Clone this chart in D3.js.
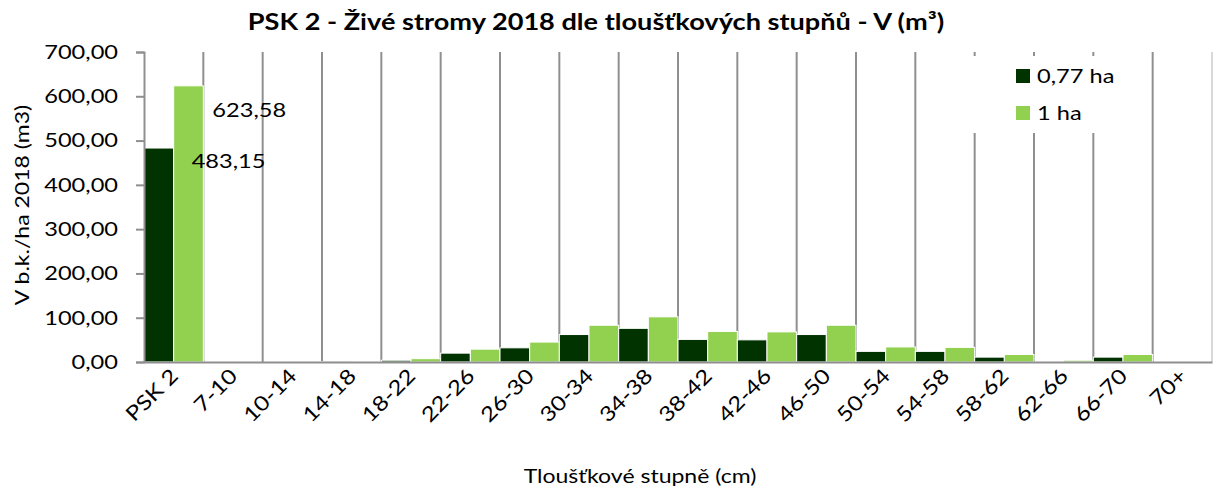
<!DOCTYPE html>
<html>
<head>
<meta charset="utf-8">
<script src="https://cdn.jsdelivr.net/npm/d3@7"></script>
<style>
  body { margin: 0; background: #fff; }
  svg text { font-family: Lato, "Open Sans", sans-serif; fill: #000; }
</style>
</head>
<body>
<svg id="chart"></svg>
<script>
// data
const categories = ['PSK 2', '7-10', '10-14', '14-18', '18-22', '22-26', '26-30', '30-34', '34-38',
                    '38-42', '42-46', '46-50', '50-54', '54-58', '58-62', '62-66', '66-70', '70+'];
const seriesNames = ['0,77 ha', '1 ha'];
const vol077 = [483.15, 0, 0, 0.3, 4, 20, 32, 62, 76, 51, 50, 62, 24, 24, 11, 0, 11, 0];
const vol1ha = [623.58, 0, 0.5, 1.5, 7.5, 29, 45, 83, 102, 69, 68, 83, 34, 33, 17, 4, 17, 0];
const yTicks = [0, 100, 200, 300, 400, 500, 600, 700];
const labelled = ['PSK 2'];

const colors = ['#003300', '#92d050'];
const svgWidth = 1219, svgHeight = 490;
const margin = { top: 52, right: 7, bottom: 128, left: 144 };
const chartWidth = svgWidth - margin.left - margin.right;
const chartHeight = svgHeight - margin.top - margin.bottom;
const stretch = 1.18;   // reference text is noticeably wide

const fmt = v => d3.format('.2f')(v).replace('.', ',');

const xScale = d3.scaleBand().domain(categories).range([0, chartWidth]).padding(0);
const xInner = d3.scaleBand().domain(seriesNames).range([0, xScale.bandwidth()]).padding(0);
const yScale = d3.scaleLinear().domain([0, 700]).range([chartHeight, 0]);

const svg = d3.select('#chart').attr('width', svgWidth).attr('height', svgHeight);
const g = svg.append('g').attr('transform', `translate(${margin.left}, ${margin.top})`);

// vertical gridlines at category boundaries
const bounds = categories.map(c => xScale(c)).concat([chartWidth]);
g.selectAll('.grid').data(bounds.slice(1)).enter().append('line')
  .attr('x1', d => d).attr('x2', d => d)
  .attr('y1', 0).attr('y2', chartHeight)
  .attr('stroke', (d, i) => i === bounds.length - 2 ? '#d9d9d9' : '#8f8f8f')
  .attr('stroke-width', 2);

// bars
const rows = categories.map((c, i) => ({ cat: c, vals: [vol077[i], vol1ha[i]] }));
const grp = g.selectAll('.cat').data(rows).enter().append('g')
  .attr('transform', d => `translate(${xScale(d.cat)},0)`);
grp.selectAll('rect').data(d => d.vals.map((v, j) => ({ s: seriesNames[j], v, j }))).enter()
  .append('rect')
  .attr('x', d => xInner(d.s))
  .attr('y', d => yScale(d.v))
  .attr('width', xInner.bandwidth())
  .attr('height', d => chartHeight - yScale(d.v))
  .attr('fill', d => colors[d.j])
  .attr('stroke', '#fff').attr('stroke-width', 1);

// data labels (only PSK 2)
const lblOffset = [{ dx: 18, dy: 20 }, { dx: 9, dy: 31 }];
rows.filter(r => labelled.includes(r.cat)).forEach(r => {
  r.vals.forEach((v, j) => {
    g.append('text').attr('class', 'st')
      .attr('x', xScale(r.cat) + xInner(seriesNames[j]) + xInner.bandwidth() + lblOffset[j].dx)
      .attr('y', yScale(v) + lblOffset[j].dy)
      .style('font-size', '20px')
      .text(fmt(v));
  });
});

// y axis
const yAxis = g.append('g').call(d3.axisLeft(yScale).tickValues(yTicks).tickSize(8).tickPadding(18).tickFormat(fmt));
yAxis.select('.domain').attr('stroke', '#8f8f8f').attr('stroke-width', 2);
yAxis.selectAll('.tick line').attr('stroke', '#8f8f8f').attr('stroke-width', 2);
yAxis.selectAll('text').attr('class', 'st').style('font-size', '20px').attr('fill', '#000');

// x axis
const xAxis = g.append('g').attr('transform', `translate(0, ${chartHeight})`)
  .call(d3.axisBottom(xScale).tickSize(0).tickPadding(0));
xAxis.select('.domain').attr('stroke', '#8f8f8f').attr('stroke-width', 2);
xAxis.selectAll('text').attr('class', 'st')
  .attr('x', 8).attr('y', 0).attr('dy', 0)
  .attr('transform', 'translate(0,21) rotate(-45)')
  .style('text-anchor', 'end').style('font-size', '20.5px').attr('fill', '#000');

// legend
const lg = g.append('g').attr('transform', `translate(${chartWidth - 249}, 4)`);
lg.append('rect').attr('width', 184).attr('height', 77).attr('fill', '#fff');
seriesNames.forEach((s, i) => {
  lg.append('rect').attr('x', 53).attr('y', 13 + i * 37).attr('width', 14).attr('height', 14).attr('fill', colors[i]);
  lg.append('text').attr('class', 'st').attr('x', 74).attr('y', 27 + i * 37)
    .style('font-size', '20px').text(s);
});

// titles
svg.append('text').attr('class', 'st').attr('x', 596).attr('y', 30)
  .attr('text-anchor', 'middle').style('font-size', '23px').style('font-weight', 'bold')
  .text('PSK 2 - Živé stromy 2018 dle tloušťkových stupňů - V (m³)');
svg.append('text').attr('class', 'st').attr('transform', 'translate(29, 205) rotate(-90)')
  .attr('text-anchor', 'middle').style('font-size', '19.5px')
  .text('V b.k./ha 2018 (m3)');
svg.append('text').attr('class', 'st').attr('x', 640).attr('y', 483)
  .attr('text-anchor', 'middle').style('font-size', '19.5px')
  .text('Tloušťkové stupně (cm)');

// widen glyphs to match the reference text
svg.selectAll('text.st').each(function() {
  const w = this.getComputedTextLength();
  d3.select(this).attr('textLength', w * stretch).attr('lengthAdjust', 'spacingAndGlyphs');
});
</script>
</body>
</html>
